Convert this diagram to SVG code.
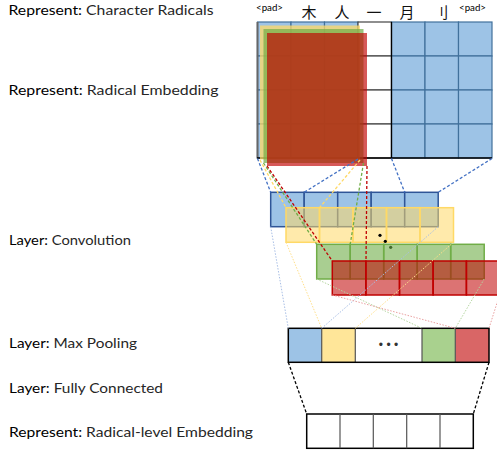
<svg xmlns="http://www.w3.org/2000/svg" width="497" height="454" viewBox="0 0 497 454">
<style>
.lbl{font-family:Lato,"Liberation Sans",sans-serif;font-size:14px;fill:#262626}
.pre{fill:#000}
.pad{font-family:Lato,"Liberation Sans",sans-serif;font-size:9px;fill:#000}
.cjk{font-family:"Noto Sans CJK SC","Noto Sans CJK JP",sans-serif;font-size:15px;fill:#111;text-anchor:middle}
.bc{fill:#9dc3e6;stroke:#41719c;stroke-width:1.2}
.wc{fill:#fff;stroke:#444;stroke-width:1.2}
.cb{fill:#9dc3e6;stroke:#2f5597;stroke-width:1.5}
.cy{fill:#ffd966;fill-opacity:0.55;stroke:#ffd966;stroke-width:1.5}
.cg{fill:#70ad47;fill-opacity:0.6;stroke:#70ad47;stroke-width:1.5}
.cr{fill:#c00000;fill-opacity:0.55;stroke:#c00000;stroke-width:1.5}
.pc{stroke:#555;stroke-width:1.2}
.dsh{fill:none;stroke-width:1.3;stroke-dasharray:3 2}
.dot{fill:none;stroke-width:1;stroke-dasharray:1.5 1.5}
</style>

<g id="labels">
<text class="lbl" x="8.5" y="15" textLength="205" lengthAdjust="spacingAndGlyphs"><tspan class="pre">Represent:</tspan> Character Radicals</text>
<text class="lbl" x="8.5" y="94.5" textLength="210" lengthAdjust="spacingAndGlyphs"><tspan class="pre">Represent:</tspan> Radical Embedding</text>
<text class="lbl" x="9" y="244.5" textLength="122" lengthAdjust="spacingAndGlyphs"><tspan class="pre">Layer:</tspan> Convolution</text>
<text class="lbl" x="9" y="348.3" textLength="128" lengthAdjust="spacingAndGlyphs"><tspan class="pre">Layer:</tspan> Max Pooling</text>
<text class="lbl" x="9" y="393.3" textLength="154" lengthAdjust="spacingAndGlyphs"><tspan class="pre">Layer:</tspan> Fully Connected</text>
<text class="lbl" x="9" y="437.3" textLength="244" lengthAdjust="spacingAndGlyphs"><tspan class="pre">Represent:</tspan> Radical-level Embedding</text>
</g>

<g id="radicals">
<text class="pad" x="256" y="11" textLength="27" lengthAdjust="spacingAndGlyphs">&lt;pad&gt;</text>
<text class="cjk" x="309" y="17.5">木</text>
<text class="cjk" x="342" y="17.5">人</text>
<text class="cjk" x="374" y="17.5">一</text>
<text class="cjk" x="407" y="17.5">月</text>
<text class="cjk" x="441" y="17.5">刂</text>
<text class="pad" x="459" y="11" textLength="27" lengthAdjust="spacingAndGlyphs">&lt;pad&gt;</text>
</g>

<g id="embedding">
<rect class="bc" x="257.5" y="22" width="33.5" height="34"/><rect class="bc" x="291" y="22" width="33.5" height="34"/><rect class="bc" x="324.5" y="22" width="33.5" height="34"/>
<rect class="bc" x="257.5" y="56" width="33.5" height="34"/><rect class="bc" x="291" y="56" width="33.5" height="34"/><rect class="bc" x="324.5" y="56" width="33.5" height="34"/>
<rect class="bc" x="257.5" y="90" width="33.5" height="34"/><rect class="bc" x="291" y="90" width="33.5" height="34"/><rect class="bc" x="324.5" y="90" width="33.5" height="34"/>
<rect class="bc" x="257.5" y="124" width="33.5" height="34"/><rect class="bc" x="291" y="124" width="33.5" height="34"/><rect class="bc" x="324.5" y="124" width="33.5" height="34"/>
<rect class="wc" x="358" y="22" width="33.5" height="34"/><rect class="wc" x="358" y="56" width="33.5" height="34"/><rect class="wc" x="358" y="90" width="33.5" height="34"/><rect class="wc" x="358" y="124" width="33.5" height="34"/>
<rect class="bc" x="391.5" y="22" width="33.5" height="34"/><rect class="bc" x="425" y="22" width="33.5" height="34"/><rect class="bc" x="458.5" y="22" width="33.5" height="34"/>
<rect class="bc" x="391.5" y="56" width="33.5" height="34"/><rect class="bc" x="425" y="56" width="33.5" height="34"/><rect class="bc" x="458.5" y="56" width="33.5" height="34"/>
<rect class="bc" x="391.5" y="90" width="33.5" height="34"/><rect class="bc" x="425" y="90" width="33.5" height="34"/><rect class="bc" x="458.5" y="90" width="33.5" height="34"/>
<rect class="bc" x="391.5" y="124" width="33.5" height="34"/><rect class="bc" x="425" y="124" width="33.5" height="34"/><rect class="bc" x="458.5" y="124" width="33.5" height="34"/>
<line x1="391.5" y1="22" x2="391.5" y2="158" stroke="#000" stroke-width="1.3"/>
<line x1="257.5" y1="22" x2="257.5" y2="158.5" stroke="#666" stroke-width="2"/>
<line x1="257" y1="158" x2="492" y2="158" stroke="#000" stroke-width="1.4"/>
<rect x="260" y="25.5" width="100" height="134" fill="#ffd966" fill-opacity="0.75"/>
<rect x="263.5" y="29" width="100" height="134" fill="#70ad47" fill-opacity="0.7"/>
<rect x="267" y="33" width="100" height="133" fill="#c00000" fill-opacity="0.65"/>
</g>

<g id="conv-blue">
<rect class="cb" x="270.7" y="192.3" width="33.5" height="34.4"/><rect class="cb" x="304.2" y="192.3" width="33.5" height="34.4"/><rect class="cb" x="337.7" y="192.3" width="33.5" height="34.4"/><rect class="cb" x="371.2" y="192.3" width="33.5" height="34.4"/><rect class="cb" x="404.7" y="192.3" width="33.5" height="34.4"/>
</g>
<g id="conv-yellow">
<rect class="cy" x="286" y="207.7" width="33.5" height="34.6"/><rect class="cy" x="319.5" y="207.7" width="33.5" height="34.6"/><rect class="cy" x="353" y="207.7" width="33.5" height="34.6"/><rect class="cy" x="386.5" y="207.7" width="33.5" height="34.6"/><rect class="cy" x="420" y="207.7" width="33.5" height="34.6"/>
</g>
<g id="conv-dots" fill="#000">
<circle cx="380" cy="235.3" r="1.6"/><circle cx="385.3" cy="241.3" r="1.6"/><circle cx="390.7" cy="247.3" r="1.6"/>
</g>
<g id="conv-green">
<rect class="cg" x="316.7" y="244.3" width="33.5" height="34.7"/><rect class="cg" x="350.2" y="244.3" width="33.5" height="34.7"/><rect class="cg" x="383.7" y="244.3" width="33.5" height="34.7"/><rect class="cg" x="417.2" y="244.3" width="33.5" height="34.7"/><rect class="cg" x="450.7" y="244.3" width="33.5" height="34.7"/>
</g>
<g id="conv-red">
<rect class="cr" x="332.3" y="261" width="33.6" height="34"/><rect class="cr" x="365.9" y="261" width="33.6" height="34"/><rect class="cr" x="399.5" y="261" width="33.6" height="34"/><rect class="cr" x="433.1" y="261" width="33.3" height="34"/><rect class="cr" x="466.4" y="261" width="33.4" height="34"/>
</g>

<g id="maxpool">
<rect x="288.3" y="328.3" width="33.4" height="34" fill="#9dc3e6"/>
<rect x="321.7" y="328.3" width="33.6" height="34" fill="#ffe699"/>
<rect x="355.3" y="328.3" width="66.7" height="34" fill="#fff"/>
<rect x="422" y="328.3" width="33.3" height="34" fill="#a9d18e"/>
<rect x="455.3" y="328.3" width="33.7" height="34" fill="#d96666"/>
<line class="pc" x1="321.7" y1="328.3" x2="321.7" y2="362.3"/>
<line class="pc" x1="355.3" y1="328.3" x2="355.3" y2="362.3" stroke="#000"/>
<line class="pc" x1="422" y1="328.3" x2="422" y2="362.3"/>
<line class="pc" x1="455.3" y1="328.3" x2="455.3" y2="362.3" stroke="#000"/>
<rect x="288.3" y="328.3" width="200.7" height="34" fill="none" stroke="#000" stroke-width="1.5"/>
<text x="388.5" y="349" font-family="'Liberation Sans',sans-serif" font-size="12" fill="#333" text-anchor="middle">• • •</text>
</g>

<g id="fully-connected">
<rect x="306.7" y="414" width="166.6" height="34.3" fill="#fff" stroke="#000" stroke-width="1.5"/>
<line class="pc" x1="340" y1="414" x2="340" y2="448.3"/>
<line class="pc" x1="373.3" y1="414" x2="373.3" y2="448.3" stroke="#000"/>
<line class="pc" x1="406.7" y1="414" x2="406.7" y2="448.3"/>
<line class="pc" x1="440" y1="414" x2="440" y2="448.3"/>
</g>

<g id="connectors">
<line class="dsh" stroke="#4472c4" x1="257.5" y1="158.5" x2="270.7" y2="192.3"/>
<line class="dsh" stroke="#4472c4" x1="358" y1="159" x2="304.2" y2="192.3"/>
<line class="dsh" stroke="#4472c4" x1="391.5" y1="158.5" x2="404.7" y2="192.3"/>
<line class="dsh" stroke="#4472c4" x1="492" y1="158.5" x2="438.2" y2="192.3"/>
<line class="dsh" stroke="#ffd966" x1="260" y1="160" x2="286" y2="207.7"/>
<line class="dsh" stroke="#ffd966" x1="360" y1="160" x2="319.5" y2="207.7"/>
<line class="dsh" stroke="#70ad47" x1="263.5" y1="163" x2="316.7" y2="244.3"/>
<line class="dsh" stroke="#70ad47" x1="363.5" y1="163" x2="350.2" y2="244.3"/>
<line class="dsh" stroke="#c00000" x1="267" y1="166" x2="332.3" y2="261"/>
<line class="dsh" stroke="#c00000" x1="367" y1="166" x2="366" y2="261"/>
<line class="dot" stroke="#a9bfe6" x1="270.7" y1="226.7" x2="288.3" y2="328.3"/>
<line class="dot" stroke="#a9bfe6" x1="438.2" y1="226.7" x2="321.7" y2="328.3"/>
<line class="dot" stroke="#ffe08a" x1="286" y1="242.3" x2="321.7" y2="328.3"/>
<line class="dot" stroke="#ffe08a" x1="453.5" y1="242.3" x2="355.3" y2="328.3"/>
<line class="dot" stroke="#b5d6a0" x1="316.7" y1="279" x2="422" y2="328.3"/>
<line class="dot" stroke="#b5d6a0" x1="484.2" y1="279" x2="455.3" y2="328.3"/>
<line class="dot" stroke="#eaa0a0" x1="332.3" y1="295" x2="455.3" y2="328.3"/>
<line class="dot" stroke="#eaa0a0" x1="499.5" y1="295" x2="489" y2="328.3"/>
<line class="dsh" stroke="#000" stroke-width="1.2" x1="288.3" y1="362.3" x2="306.7" y2="414"/>
<line class="dsh" stroke="#000" stroke-width="1.2" x1="489" y1="362.3" x2="473.3" y2="414"/>
</g>
</svg>
